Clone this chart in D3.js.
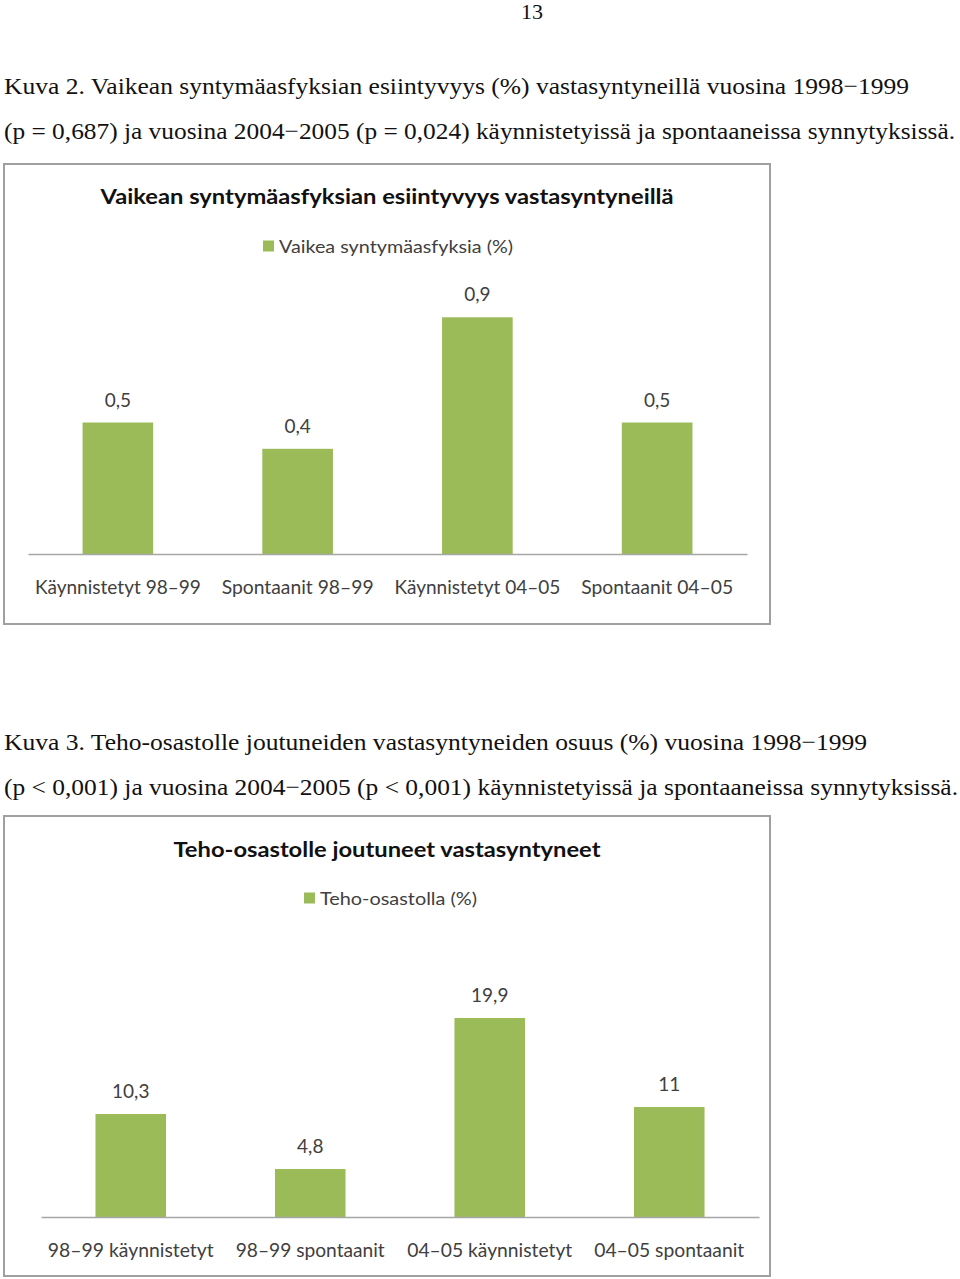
<!DOCTYPE html>
<html><head><meta charset="utf-8">
<script src="https://cdn.jsdelivr.net/npm/d3@7"></script>
<style>html,body{margin:0;padding:0;background:#fff;}svg{display:block;}</style>
</head><body>
<script>
// ---- data ----
const pageNumber = "13";
const caption1 = ["Kuva 2. Vaikean syntymäasfyksian esiintyvyys (%) vastasyntyneillä vuosina 1998\u22121999",
                  "(p = 0,687) ja vuosina 2004\u22122005 (p = 0,024) käynnistetyissä ja spontaaneissa synnytyksissä."];
const caption2 = ["Kuva 3. Teho-osastolle joutuneiden vastasyntyneiden osuus (%) vuosina 1998\u22121999",
                  "(p < 0,001) ja vuosina 2004\u22122005 (p < 0,001) käynnistetyissä ja spontaaneissa synnytyksissä."];

const title1 = "Vaikean syntymäasfyksian esiintyvyys vastasyntyneillä";
const legend1 = "Vaikea syntymäasfyksia (%)";
const categories1 = ["Käynnistetyt 98\u201399", "Spontaanit 98\u201399", "Käynnistetyt 04\u201305", "Spontaanit 04\u201305"];
const values1 = [0.5, 0.4, 0.9, 0.5];
const labels1 = ["0,5", "0,4", "0,9", "0,5"];

const title2 = "Teho-osastolle joutuneet vastasyntyneet";
const legend2 = "Teho-osastolla (%)";
const categories2 = ["98\u201399 käynnistetyt", "98\u201399 spontaanit", "04\u201305 käynnistetyt", "04\u201305 spontaanit"];
const values2 = [10.3, 4.8, 19.9, 11];
const labels2 = ["10,3", "4,8", "19,9", "11"];

// ---- drawing ----
const W = 960, H = 1279;
const svg = d3.select("body").append("svg").attr("width", W).attr("height", H);
const GREEN = "#9BBB59";
const chartFont = "Lato, 'Open Sans', sans-serif";
const serif = "'Liberation Serif', 'Times New Roman', Times, serif";

function fit(sel, w) {
  sel.each(function () {
    const n = this.getComputedTextLength();
    if (w && n > 0) d3.select(this).attr("textLength", w).attr("lengthAdjust", "spacingAndGlyphs");
  });
  return sel;
}

svg.append("text").attr("x", 532).attr("y", 19).attr("text-anchor", "middle")
  .attr("font-family", serif).attr("font-size", 22).attr("fill", "#111").text(pageNumber);

function captionBlock(lines, y0, widths) {
  lines.forEach((t, i) => {
    fit(svg.append("text").attr("x", 4).attr("y", y0 + i * 45)
      .attr("font-family", serif).attr("font-size", 24).attr("fill", "#111").text(t), widths[i]);
  });
}
captionBlock(caption1, 94, [905, 951]);
captionBlock(caption2, 750, [863, 954]);

function barChart(cfg) {
  const g = svg.append("g");
  g.append("rect").attr("x", cfg.fx).attr("y", cfg.fy).attr("width", cfg.fw).attr("height", cfg.fh)
    .attr("fill", "#fff").attr("stroke", "#a0a0a0").attr("stroke-width", 2);

  fit(g.append("text").attr("x", cfg.titleX).attr("y", cfg.titleY).attr("text-anchor", "middle")
    .attr("font-family", chartFont).attr("font-weight", "bold").attr("font-size", 21)
    .attr("fill", "#111").text(cfg.title), cfg.titleW);

  g.append("rect").attr("x", cfg.legX).attr("y", cfg.legY - 5.5).attr("width", 11).attr("height", 11).attr("fill", GREEN);
  fit(g.append("text").attr("x", cfg.legX + 16).attr("y", cfg.legY + 6.5)
    .attr("font-family", chartFont).attr("font-size", 18).attr("fill", "#404040").text(cfg.legend), cfg.legW);

  const x = d3.scaleBand().domain(cfg.categories).range(cfg.xRange).paddingInner(0.607).paddingOuter(0.3035);
  const y = d3.scaleLinear().domain(cfg.yDomain).range(cfg.yRange);

  g.selectAll("rect.bar").data(cfg.values).join("rect").attr("class", "bar")
    .attr("x", (d, i) => x(cfg.categories[i])).attr("width", x.bandwidth())
    .attr("y", d => y(d)).attr("height", d => y(0) - y(d)).attr("fill", GREEN);

  const axis = g.append("g").attr("transform", `translate(0,${y(0)})`)
    .call(d3.axisBottom(x).tickSize(0).tickPadding(0));
  axis.select(".domain").attr("stroke", "#a6a6a6").attr("stroke-width", 1.5);
  axis.selectAll(".tick text").attr("dy", null).attr("y", cfg.catDy)
    .attr("font-family", chartFont).attr("font-size", 19).attr("fill", "#404040")
    .each(function (d, i) { fit(d3.select(this), cfg.catW[i]); });

  g.selectAll("text.val").data(cfg.values).join("text").attr("class", "val")
    .attr("x", (d, i) => x(cfg.categories[i]) + x.bandwidth() / 2)
    .attr("y", d => y(d) - 16).attr("text-anchor", "middle")
    .attr("font-family", chartFont).attr("font-size", 19).attr("fill", "#404040")
    .text((d, i) => cfg.labels[i]);
}

barChart({
  fx: 4, fy: 164, fw: 766, fh: 460,
  title: title1, titleX: 387, titleY: 204, titleW: 573,
  legend: legend1, legX: 263, legY: 246, legW: 234,
  categories: categories1, values: values1, labels: labels1,
  xRange: [28, 747], yDomain: [0, 1], yRange: [554, 554 - 263],
  catDy: 40, catW: [166, 152, 166, 152]
});

barChart({
  fx: 4, fy: 816, fw: 766, fh: 460,
  title: title2, titleX: 387, titleY: 857, titleW: 427,
  legend: legend2, legX: 304, legY: 898, legW: 157,
  categories: categories2, values: values2, labels: labels2,
  xRange: [41, 759], yDomain: [0, 20], yRange: [1217, 1217 - 200],
  catDy: 40, catW: [166, 149, 165, 150]
});
</script>
</body></html>
